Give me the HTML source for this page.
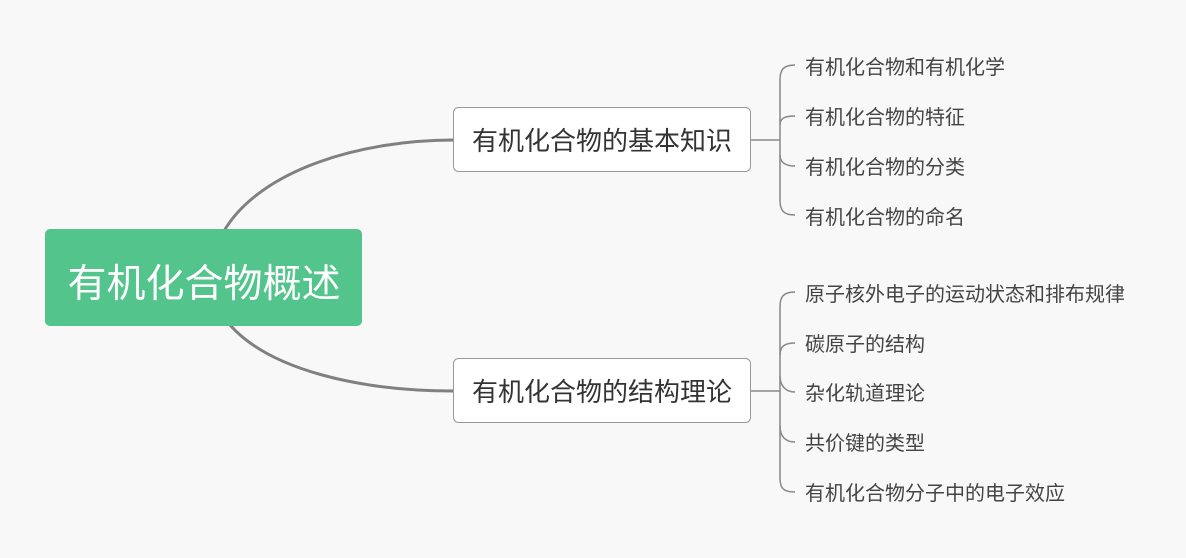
<!DOCTYPE html>
<html><head><meta charset="utf-8"><style>
html,body{margin:0;padding:0;background:#f8f8f8;}
svg{display:block}
text{font-family:"Liberation Sans","Noto Sans CJK SC",sans-serif;}
</style></head><body>
<svg width="1186" height="558" viewBox="0 0 1186 558" xmlns="http://www.w3.org/2000/svg">
<rect width="1186" height="558" fill="#f8f8f8"/>
<g fill="none" stroke="#808080" stroke-width="3">
<path d="M224 231 C260 170 360 140 454 140"/>
<path d="M230 325 C270 370 360 391 454 391"/>
</g>
<g fill="none" stroke="#888" stroke-width="1.5">
<path d="M751 140 H780"/>
<path d="M795 65 C783 65 780 70 780 80 V200 C780 210 783 215 795 215"/>
<path d="M780 125 C780 118 785 116 795 116"/>
<path d="M780 155 C780 162 785 166 795 166"/>
<path d="M751 391 H780"/>
<path d="M795 292 C783 292 780 297 780 307 V478 C780 488 783 492 795 492"/>
<path d="M780 355 C780 346 785 343 795 343"/>
<path d="M780 376 C780 385 785 392 795 392"/>
<path d="M780 426 C780 436 785 442 795 442"/>
</g>
<rect x="45" y="229" width="317" height="97" rx="5" fill="#52c48c"/>
<text x="204" y="297" font-size="39" fill="#fff" text-anchor="middle">有机化合物概述</text>
<rect x="453.5" y="107.5" width="297" height="64" rx="5" fill="#fff" stroke="#999"/>
<text x="602" y="150" font-size="26" fill="#333" text-anchor="middle">有机化合物的基本知识</text>
<rect x="453.5" y="358.5" width="297" height="64" rx="5" fill="#fff" stroke="#999"/>
<text x="602" y="401" font-size="26" fill="#333" text-anchor="middle">有机化合物的结构理论</text>
<g font-size="20" fill="#444">
<text x="805" y="74">有机化合物和有机化学</text>
<text x="805" y="124">有机化合物的特征</text>
<text x="805" y="174">有机化合物的分类</text>
<text x="805" y="224">有机化合物的命名</text>
<text x="805" y="301">原子核外电子的运动状态和排布规律</text>
<text x="805" y="351">碳原子的结构</text>
<text x="805" y="400">杂化轨道理论</text>
<text x="805" y="450">共价键的类型</text>
<text x="805" y="500">有机化合物分子中的电子效应</text>
</g>
</svg>
</body></html>
